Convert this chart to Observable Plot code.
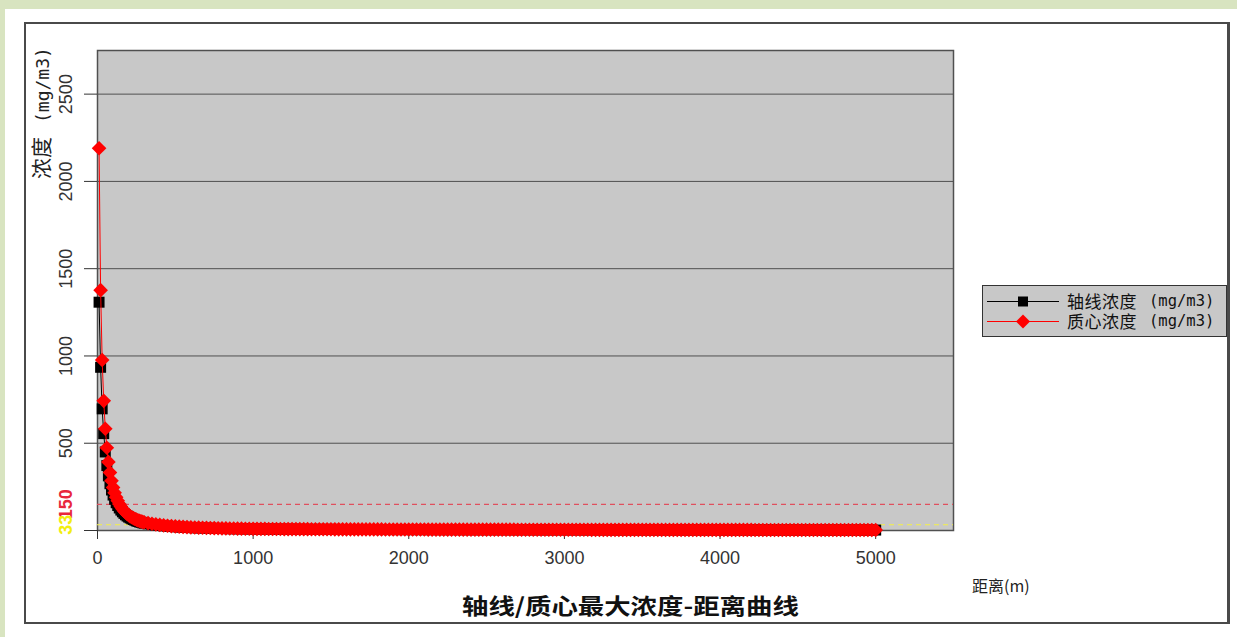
<!DOCTYPE html>
<html><head><meta charset="utf-8">
<script src="https://cdn.jsdelivr.net/npm/d3@7"></script>
<script src="https://cdn.jsdelivr.net/npm/@observablehq/plot@0.6"></script>
<style>
html,body{margin:0;padding:0;width:1237px;height:637px;overflow:hidden;background:#d8e4c0;}
#page{position:absolute;left:5px;top:9px;width:1232px;height:628px;background:#fff;}
#box{position:absolute;left:24px;top:22px;width:1206px;height:602px;border:2px solid #4a4a4a;border-right-width:3px;box-sizing:border-box;}
#chart{position:absolute;left:26px;top:24px;}
.cjk{font-family:"Noto Sans CJK SC",sans-serif;}
.mono{font-family:"DejaVu Sans Mono",monospace;}
#ytitle{position:absolute;left:-35px;top:92px;width:150px;height:24px;line-height:24px;transform:rotate(-90deg);transform-origin:50% 50%;white-space:nowrap;color:#222;}
#ytitle .c{font-size:21px;}
#ytitle .m{font-size:18px;margin-left:14px;}
#xlabel{position:absolute;left:972px;top:573px;font-size:16px;color:#222;white-space:nowrap;}
#title{position:absolute;left:462px;top:591px;font-size:22px;font-weight:bold;color:#111;white-space:nowrap;transform-origin:0 0;transform:scaleX(1.2);line-height:1.2;}
#legend{position:absolute;left:982px;top:285px;width:245px;height:52px;background:#c8c8c8;border:1px solid #333;box-sizing:border-box;}
.row{position:absolute;left:0;height:20px;width:243px;}
.row svg{position:absolute;left:0;top:0;}
.row .lbl{position:absolute;left:84px;top:0;height:18px;line-height:18px;color:#111;white-space:nowrap;}
.row .lbl span{display:inline-block;height:18px;line-height:18px;vertical-align:top;}
.row .c{font-size:17px;letter-spacing:0.5px;}
.row .m{font-size:15.5px;margin-left:12px;}
</style></head>
<body>
<div id="page"></div>
<div id="box"></div>
<div id="chart"></div>
<div id="ytitle"><span class="c cjk">浓度</span><span class="m mono">(mg/m3)</span></div>
<div id="xlabel" class="cjk">距离(m)</div>
<div id="title" class="cjk">轴线/质心最大浓度-距离曲线</div>
<div id="legend">
  <div class="row" style="top:6px"><svg width="84" height="19"><line x1="4" x2="76" y1="9.5" y2="9.5" stroke="#000"/><rect x="35" y="4.5" width="10" height="10" fill="#000"/></svg><div class="lbl"><span class="c cjk">轴线浓度</span><span class="m mono">(mg/m3)</span></div></div>
  <div class="row" style="top:26px"><svg width="84" height="19"><line x1="4" x2="76" y1="9.5" y2="9.5" stroke="#f00"/><path d="M40,2.5 L47,9.5 L40,16.5 L33,9.5Z" fill="#f00"/></svg><div class="lbl"><span class="c cjk">质心浓度</span><span class="m mono">(mg/m3)</span></div></div>
</div>
<script>
// sampling distances (m)
const distNear = [10,20,30,40,50,60,70,80,90,100,110,120,130,140,150,160,170,180,190,200,210,220,230,240,250,260,270,280,290,300];
const distFar = d3.range(325, 5001, 25);

// 质心浓度 (mg/m3)
const redNear = [2190,1377,977,743,583,474,393,332,285,247,216,191,170,152,137,124,113,103,95,88,81,76,71,66,62,58,55,52,49,47];
const redFar = [
 42.5,38.5,35,32,29.5,27.2,25.2,23.5,22,20.6,19.4,18.3,17.3,16.4,15.6,14.9,14.2,13.6,13,12.5,12,11.6,11.2,10.8,10.5,10.2,9.9,9.6,
 9.4,9.2,9.0,8.8,8.7,8.5,8.4,8.2,8.1,8.0,7.9,7.7,7.6,7.5,7.4,7.3,7.2,7.1,7.0,6.9,6.85,6.8,6.7,6.6,6.55,6.5,6.4,6.35,6.3,6.2,6.15,6.1,6.05,6.0,5.9,5.85,5.8,5.75,5.7,5.6,
 5.55,5.5,5.5,5.45,5.4,5.35,5.3,5.3,5.25,5.2,5.15,5.1,5.1,5.05,5.0,4.95,4.95,4.9,4.85,4.8,4.8,4.75,4.7,4.7,4.65,4.6,4.6,4.55,4.5,4.5,4.45,4.45,4.4,4.4,4.35,4.3,4.3,4.3,4.25,4.2,
 4.2,4.15,4.15,4.1,4.1,4.05,4.0,4.0,3.95,3.95,3.9,3.9,3.85,3.85,3.8,3.8,3.75,3.75,3.7,3.7,3.65,3.65,3.6,3.6,3.6,3.55,3.55,3.5,3.5,3.5,3.45,3.45,3.4,3.4,3.4,3.35,3.35,3.3,3.3,3.3,
 3.25,3.25,3.25,3.2,3.2,3.2,3.15,3.15,3.1,3.1,3.1,3.05,3.05,3.05,3.0,3.0,3.0,2.95,2.95,2.95,2.9,2.9,2.9,2.85,2.85,2.85,2.8,2.8,2.8,2.8,2.75,2.75,2.75,2.7,2.7,2.7,2.7,2.65,2.65,2.65];

// 轴线浓度 (mg/m3)
const blackNear = [1308,935,697,555,450,372,313,268,232,203,179,159,143,129,117,107,98,90,83,77,72,67,63,59,55,52,49,47,44,42];
const blackFar = [
 38,34.5,31.5,28.8,26.5,24.5,22.7,21.2,19.8,18.5,17.4,16.4,15.5,14.7,14,13.4,12.8,12.2,11.7,11.2,10.8,10.4,10,9.7,9.4,9.2,8.9,8.6,
 8.4,8.2,8.1,7.9,7.8,7.6,7.5,7.4,7.3,7.2,7.1,6.9,6.8,6.7,6.6,6.5,6.5,6.4,6.3,6.2,6.1,6.1,6.0,5.9,5.9,5.8,5.7,5.7,5.6,5.6,5.5,5.5,5.4,5.4,5.3,5.3,5.2,5.2,5.1,5.0,
 5.0,4.9,4.9,4.9,4.8,4.8,4.7,4.7,4.7,4.6,4.6,4.6,4.5,4.5,4.5,4.4,4.4,4.4,4.3,4.3,4.3,4.2,4.2,4.2,4.1,4.1,4.1,4.1,4.0,4.0,4.0,4.0,3.9,3.9,3.9,3.9,3.8,3.8,3.8,3.8,
 3.7,3.7,3.7,3.7,3.6,3.6,3.6,3.6,3.5,3.5,3.5,3.5,3.5,3.4,3.4,3.4,3.4,3.4,3.3,3.3,3.3,3.3,3.3,3.2,3.2,3.2,3.2,3.2,3.1,3.1,3.1,3.1,3.1,3.1,3.0,3.0,3.0,3.0,3.0,3.0,
 2.9,2.9,2.9,2.9,2.9,2.9,2.8,2.8,2.8,2.8,2.8,2.8,2.8,2.7,2.7,2.7,2.7,2.7,2.7,2.6,2.6,2.6,2.6,2.6,2.6,2.6,2.5,2.5,2.5,2.5,2.5,2.5,2.5,2.5,2.4,2.4,2.4,2.4,2.4,2.4];

const xTicks = [0,1000,2000,3000,4000,5000];
const yTicks = [500,1000,1500,2000,2500];
const yTickLabels = [0,500,1000,1500,2000,2500];
const limits = [150,33];
const limitColors = ["#e8283c","#f2ee10"];
const limitLineColors = ["#e0505e","#f4f044"];

const dist = distNear.concat(distFar);
const red = redNear.concat(redFar);
const black = blackNear.concat(blackFar);
const redData = dist.map((d,i)=>({d, v: red[i]}));
const blackData = dist.map((d,i)=>({d, v: black[i]}));

const tickFont = "Liberation Sans, Arial, sans-serif";

const chart = Plot.plot({
  width: 1204, height: 600,
  marginLeft: 71, marginRight: 277, marginTop: 26, marginBottom: 94,
  x: {domain: [0, 5500], axis: null},
  y: {domain: [0, 2750], axis: null},
  style: {fontFamily: tickFont, background: "transparent", overflow: "visible"},
  marks: [
    Plot.frame({fill: "#c8c8c8", stroke: null}),
    Plot.ruleY(yTicks, {stroke: "#505050", strokeWidth: 1}),
    Plot.frame({stroke: "#505050", strokeWidth: 1.5}),
    Plot.axisY({ticks: yTickLabels, tickSize: 13, tickFormat: () => "", color: "#333", label: null}),
    Plot.text(yTickLabels.filter(d=>d>0), {y: d=>d, text: d=>String(d), frameAnchor: "left", textAnchor: "middle", lineAnchor: "middle", dx: -31, rotate: -90, fontSize: 18, fill: "#333"}),
    Plot.axisX({ticks: xTicks, tickSize: 9, tickPadding: 12, fontSize: 18, tickFormat: d => String(d), color: "#333", label: null}),
    Plot.ruleY(limits, {stroke: (d,i)=>limitLineColors[i], strokeDasharray: "5,4", strokeWidth: 1.2}),
    Plot.text(limits, {y: d=>d, text: d=>String(d), frameAnchor: "left", textAnchor: "middle", lineAnchor: "middle", dx: -31, rotate: -90, fontSize: 18, fontWeight: "bold", fill: (d,i)=>limitColors[i]}),
    Plot.line(blackData, {x: "d", y: "v", stroke: "#000", strokeWidth: 1}),
    Plot.dot(blackData, {x: "d", y: "v", symbol: "square", r: 6.2, fill: "#000", stroke: null}),
    Plot.line(redData, {x: "d", y: "v", stroke: "#f00", strokeWidth: 1}),
    Plot.dot(redData, {x: "d", y: "v", symbol: "diamond2", r: 6.6, fill: "#f00", stroke: null})
  ]
});
document.getElementById("chart").appendChild(chart);
</script>
</body></html>
